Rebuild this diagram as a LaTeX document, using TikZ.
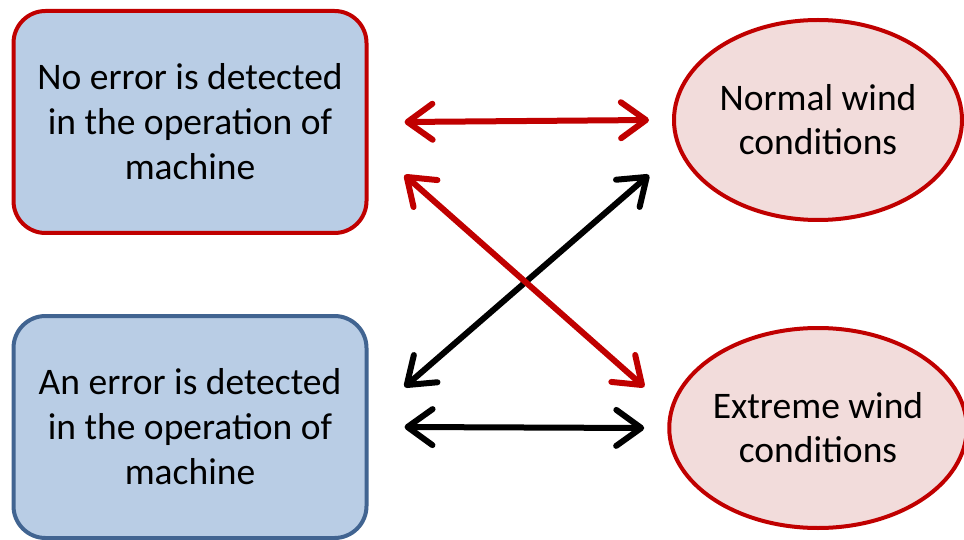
\documentclass[tikz,border=0pt]{standalone}
\usepackage{fontspec}
\setmainfont{Carlito}
\usetikzlibrary{arrows.meta,shapes.geometric}
\definecolor{boxfill}{RGB}{185,205,229}
\definecolor{boxblue}{RGB}{65,100,145}
\definecolor{darkred}{RGB}{192,0,0}
\definecolor{ellfill}{RGB}{242,220,219}
\tikzset{
  cond/.style={rectangle, rounded corners=32pt, fill=boxfill, line width=4pt,
    minimum width=353pt, minimum height=222pt, align=center, font=\fontsize{37.5}{45}\selectfont, inner sep=0pt},
  wind/.style={ellipse, fill=ellfill, draw=darkred, line width=4pt,
    minimum width=288pt, minimum height=200pt, align=center, font=\fontsize{37.5}{44}\selectfont, inner sep=0pt},
  barb/.tip={Straight Barb[length=25pt,width=36pt,line width=6pt,line cap=round,line join=round]},
  link/.style={line width=6pt, line cap=round, barb-barb}
}
\begin{document}
\begin{tikzpicture}[x=1pt,y=-1pt]
\useasboundingbox (0,0) rectangle (964,540);
\node[cond, draw=darkred] (a) at (190,122) {No error is detected\\in the operation of\\machine};
\node[cond, draw=boxblue] (b) at (190,427) {An error is detected\\in the operation of\\machine};
\node[wind] (n) at (818,120) {Normal wind\\conditions};
\node[wind] (e) at (818,428) {Extreme wind\\conditions};
\coordinate (a1) at ([xshift=36pt]a.east);
\coordinate (a2) at ([xshift=36pt,yshift=-53pt]a.east);
\coordinate (b1) at ([xshift=36pt,yshift=40pt]b.east);
\coordinate (b2) at ([xshift=36pt]b.east);
\coordinate (n1) at ([xshift=-23pt]n.west);
\coordinate (n2) at ([xshift=-23pt,yshift=-55pt]n.west);
\coordinate (e1) at ([xshift=-23pt,yshift=41pt]e.west);
\coordinate (e2) at ([xshift=-23pt]e.west);
\draw[link, draw=black] (b1) -- (n2);
\draw[link, draw=black] (b2) -- (e2);
\draw[link, draw=darkred] (a1) -- (n1);
\draw[link, draw=darkred] (a2) -- (e1);
\end{tikzpicture}
\end{document}
